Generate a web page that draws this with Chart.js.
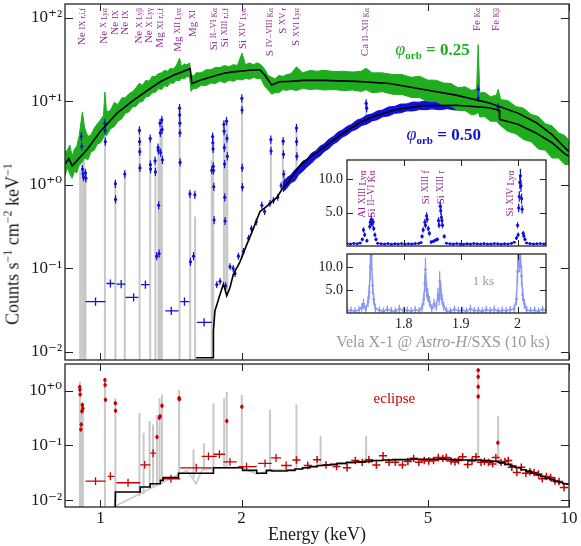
<!DOCTYPE html>
<html>
<head>
<meta charset="utf-8">
<title>Vela X-1 Astro-H/SXS spectra</title>
<script src="https://cdn.jsdelivr.net/npm/chart.js@4.4.1/dist/chart.umd.min.js"></script>
<style>
  body { margin: 0; background: #fff; }
  #wrap { position: relative; width: 581px; height: 546px; overflow: hidden; font-family: 'Liberation Serif', serif; }
  canvas { position: absolute; }
  #ytitle { position: absolute; left: 13px; top: 244px; transform: translate(-50%, -50%) rotate(-90deg); white-space: nowrap; font-size: 18px; color: #1a1a1a; }
  #ytitle sup { font-size: 12px; line-height: 0; }
  #vela { position: absolute; left: 443px; top: 342px; transform: translate(-50%, -50%); white-space: nowrap; font-size: 16px; color: #9a9a9a; }
</style>
</head>
<body>
<div id="wrap">
  <canvas id="bottom" width="581" height="186" style="left:0;top:360px"></canvas>
  <canvas id="top" width="581" height="364" style="left:0;top:0"></canvas>
  <canvas id="insetTop" width="252" height="100" style="left:300px;top:150px"></canvas>
  <canvas id="insetBot" width="252" height="90" style="left:300px;top:250px"></canvas>
  <div id="ytitle">Counts s<sup>−1</sup> cm<sup>−2</sup> keV<sup>−1</sup></div>
  <div id="vela">Vela X-1 @ <i>Astro-H</i>/SXS (10 ks)</div>
</div>
<script>
const FONT = "'Liberation Serif', 'DejaVu Serif', serif";
const GREEN = '#1fad1f', BLUE = '#1010d8', RED = '#c80000', GRAY = '#c8c8c8';
const PURPLE = '#8e2b8e', LIGHT = '#8898f4', INK = '#1a1a1a';

// ---- top panel: phi = 0.25 (green data band, black model)
const greenE = [0.840,0.850,0.860,0.870,0.880,0.890,0.900,0.915,0.925,0.940,0.955,0.970,0.985,1.000,1.015,1.022,1.030,1.050,1.070,1.090,1.110,1.130,1.150,1.170,1.190,1.210,1.230,1.250,1.270,1.290,1.310,1.330,1.350,1.370,1.390,1.410,1.430,1.450,1.475,1.490,1.510,1.530,1.550,1.560,1.580,1.600,1.640,1.680,1.720,1.760,1.800,1.840,1.880,1.920,1.960,2.005,2.040,2.080,2.120,2.160,2.200,2.240,2.280,2.320,2.360,2.400,2.450,2.500,2.550,2.620,2.700,2.800,2.900,3.000,3.150,3.300,3.450,3.600,3.690,3.800,4.000,4.200,4.400,4.600,4.800,5.000,5.200,5.400,5.600,5.800,6.000,6.200,6.350,6.400,6.450,6.600,6.800,7.000,7.060,7.150,7.400,7.700,8.000,8.300,8.600,8.900,9.200,9.500,9.800,10.00];
const greenLo = [1.3,1.6,1.35,1.2,1.45,1.4,1.7,1.9,2.1,2.0,2.5,2.6,3.1,3.2,3.7,4.1,3.9,4.7,5.0,5.8,6.2,7.2,7.5,8.6,8.7,9.8,10.0,11.4,11.5,12.7,12.9,14.2,13.9,15.4,15.1,16.7,16.4,17.9,17.6,18.9,18.6,19.9,19.5,13.2,14.3,14.2,15.6,15.5,16.6,16.4,17.6,16.7,17.9,17.4,18.4,18.1,18.9,18.4,19.4,18.8,18.9,15.2,13.8,12.2,12.8,12.7,13.8,13.6,14.0,13.5,14.3,13.9,14.1,13.7,13.9,13.5,13.7,13.2,13.8,12.7,13.1,12.2,12.1,11.2,11.1,10.0,10.0,9.0,8.8,7.8,7.8,6.9,7.1,7.5,6.5,6.6,5.8,5.8,5.5,5.1,4.4,4.1,3.5,3.3,2.7,2.6,2.1,2.1,1.75,1.75];
const greenHi = [2.5,2.6,3.0,2.2,2.7,2.9,3.8,7.5,4.8,3.8,4.0,4.8,5.4,6.0,6.8,13.0,7.5,7.8,9.7,9.2,11.0,11.1,12.4,13.1,14.5,16.5,15.6,18.0,17.5,20.0,20.0,21.6,22.0,23.6,23.0,25.0,24.4,26.6,33.0,26.0,28.2,27.4,29.0,21.5,20.0,22.0,22.0,24.0,24.0,25.6,25.5,27.0,26.0,27.6,27.0,38.0,27.5,29.0,27.5,29.0,27.5,24.5,20.5,19.5,18.6,20.5,20.0,21.0,21.5,26.0,22.0,23.5,23.0,23.6,22.8,23.0,22.5,23.0,25.0,22.0,22.0,21.0,21.0,19.5,20.0,18.0,18.0,16.6,16.4,14.6,15.0,13.6,14.0,48.0,12.6,12.9,11.4,11.9,14.0,10.5,10.3,8.7,8.3,7.0,6.6,5.4,5.1,4.2,3.9,3.4];
const modelTopE = [0.84,0.856,0.87,0.89,0.937,1.0,1.085,1.177,1.277,1.342,1.432,1.554,1.567,1.632,1.771,1.845,1.921,2.085,2.19,2.244,2.32,2.41,2.54,2.708,2.99,3.52,4.14,4.79,5.74,6.76,7.1,7.8,8.5,9.2,9.8,10.0];
const modelTopV = [1.77,2.07,1.69,1.94,2.67,4.39,7.24,10.4,14.3,17.2,20.6,24.7,16.4,17.9,20.6,21.9,22.6,23.6,24.0,20.6,15.7,17.2,17.4,17.9,17.9,17.4,16.4,14.2,11.9,9.6,8.7,7.2,5.6,4.0,2.8,2.5];

// ---- top panel: phi = 0.50 (blue data, black model, grey line model)
const modelMidE = [1.60,1.742,1.742,1.755,1.80,1.83,1.86,1.89,1.921,1.985,2.05,2.12,2.19,2.26,2.38,2.45,2.50,2.66,2.80,2.99,3.09,3.24,3.52,3.63,3.82,4.14,4.28,4.88,5.74,6.76,7.10,7.11,7.8,8.5,9.2,9.8,10.0];
const modelMidV = [0.0085,0.0085,0.018,0.031,0.049,0.065,0.047,0.059,0.085,0.12,0.19,0.30,0.48,0.55,0.71,0.92,1.03,1.69,2.15,2.8,3.2,3.9,5.3,5.8,6.6,7.6,8.0,8.9,9.0,8.4,7.8,6.1,5.3,4.2,3.2,2.35,2.2];
const blueLineE = [0.910,0.912,0.915,0.918,0.920,0.929,0.931,1.022,1.023,1.024,1.076,1.077,1.127,1.211,1.212,1.213,1.214,1.277,1.278,1.279,1.308,1.310,1.318,1.327,1.329,1.331,1.334,1.340,1.342,1.344,1.352,1.354,1.356,1.475,1.476,1.477,1.478,1.479,1.552,1.556,1.580,1.590,1.728,1.735,1.737,1.739,1.741,1.743,1.745,1.748,1.834,1.836,1.838,1.840,1.842,1.845,1.858,1.862,1.866,2.003,2.005,2.007,2.009,2.310,2.312,2.455,2.458,2.462,2.620,2.622,2.625,3.690,3.700,6.40,6.40,7.06];
const blueLineV = [3.8,2.9,1.55,1.35,1.24,1.4,1.2,5.5,4.5,3.3,1.03,0.67,1.35,4.5,3.3,2.5,1.6,3.6,1.75,1.55,1.95,1.43,0.14,2.8,2.6,0.57,0.15,5.5,4.2,2.44,6.0,4.6,2.0,8.3,6.9,5.5,4.2,1.86,0.78,0.12,0.14,0.76,1.5,3.8,3.2,2.7,1.67,1.49,0.95,0.38,5.3,4.4,2.8,1.78,0.71,0.37,5.8,3.6,2.2,10.9,7.9,1.6,0.94,3.5,2.55,3.34,2.33,1.35,4.8,3.3,2.2,9.5,8.3,14,11,8.5];
const blueBinE = [0.976,1.050,1.107,1.177,1.247,1.416,1.511,1.664];
const blueBinV = [0.040,0.066,0.065,0.045,0.064,0.031,0.040,0.0226];
const blueBinLo = [0.929,1.030,1.081,1.130,1.221,1.375,1.480,1.606];
const blueBinHi = [1.025,1.073,1.130,1.205,1.273,1.468,1.549,1.728];
const blueContE = [1.771,1.80,1.85,1.89,1.92,1.937,1.97,2.02,2.07,2.10,2.15,2.21,2.24,2.30,2.34,2.39,2.43,2.47];
const blueContV = [0.064,0.07,0.062,0.105,0.10,0.087,0.14,0.16,0.23,0.30,0.36,0.57,0.48,0.60,0.65,0.71,0.98,1.08];
const blueBandE = [2.45,2.50,2.55,2.60,2.65,2.70,2.76,2.82,2.88,2.94,3.00,3.07,3.14,3.21,3.28,3.36,3.44,3.52,3.61,3.70,3.80,3.90,4.00,4.12,4.24,4.37,4.50,4.65,4.80,4.95,5.10,5.30,5.50,5.70,5.90,6.10,6.30,6.50,6.70,6.90,7.10,7.12,7.40,7.80,8.20,8.60,9.00,9.40,9.80,10.0];
const blueBandLo = [0.82,0.92,1.06,1.12,1.33,1.45,1.65,1.82,2.06,2.22,2.50,2.72,3.08,3.32,3.72,3.98,4.42,4.65,5.15,5.35,5.85,6.05,6.55,6.70,7.20,7.30,7.70,7.70,8.00,7.95,8.15,7.95,8.20,7.90,7.95,7.65,7.65,7.30,7.25,6.90,6.85,5.30,5.10,4.50,3.95,3.30,2.80,2.35,2.02,1.85];
const blueBandHi = [1.08,1.22,1.32,1.52,1.66,1.92,2.04,2.40,2.55,2.90,3.10,3.52,3.80,4.28,4.55,5.02,5.35,5.95,6.25,6.85,7.10,7.70,7.90,8.60,8.70,9.30,9.35,9.85,9.80,10.2,10.0,10.2,10.0,10.2,9.75,9.90,9.45,9.50,9.05,9.10,8.70,7.10,6.55,6.10,5.30,4.70,3.95,3.45,2.75,2.60];
const grayTopE = [0.905,0.915,0.922,0.929,1.022,1.076,1.127,1.212,1.277,1.31,1.33,1.343,1.352,1.475,1.554,1.592,1.728,1.74,1.835,1.855,1.865,2.005,2.31,2.45,2.62,3.69,6.40,7.06];
const grayTopPeak = [1.5,3.9,3.0,1.4,6.2,1.1,1.45,4.7,3.8,2.0,3.0,5.6,6.2,8.8,0.82,0.42,2.0,4.0,5.5,4.6,6.0,11.2,3.7,3.5,5.0,10.2,16,10];
const grayTopBase = [0.001,0.001,0.001,0.001,0.001,0.001,0.001,0.001,0.001,0.001,0.001,0.001,0.001,0.001,0.001,0.001,0.001,0.02,0.065,0.05,0.047,0.13,0.6,0.92,1.5,6.0,8.6,7.9];

// ---- bottom panel: eclipse
const eclModelE = [1.075,1.076,1.216,1.277,1.342,1.361,1.467,1.742,2.01,2.155,2.26,2.32,2.5,2.6,2.7,2.8,2.9,3.0,3.1,3.2,3.35,3.5,3.65,3.8,4.0,4.2,4.4,4.6,4.8,5.0,5.3,5.6,5.9,6.2,6.5,6.8,7.1,7.3,7.5,7.7,7.9,8.1,8.3,8.5,8.7,8.9,9.1,9.3,9.5,9.7,9.9,10.0];
const eclModelV = [0.001,0.0098,0.0141,0.0174,0.020,0.023,0.026,0.031,0.039,0.035,0.031,0.035,0.034,0.035,0.037,0.039,0.041,0.043,0.044,0.045,0.047,0.049,0.050,0.051,0.053,0.054,0.055,0.055,0.056,0.056,0.056,0.056,0.055,0.054,0.054,0.053,0.051,0.048,0.045,0.042,0.039,0.036,0.034,0.031,0.029,0.027,0.025,0.024,0.022,0.021,0.020,0.0195];
const redLineE = [0.903,0.904,0.905,0.908,0.910,0.913,0.915,0.917,1.022,1.023,1.025,1.076,1.077,1.320,1.336,1.340,1.353,1.472,1.474,1.86,2.003,6.40,6.40,6.40,6.40,7.05];
const redLineV = [1.17,1.04,0.85,0.195,0.24,0.42,0.55,0.47,1.56,1.27,0.68,0.59,0.43,0.142,0.32,0.34,0.53,0.73,0.70,0.28,0.51,2.36,1.79,1.18,0.78,0.112];
const redBinE = [0.976,1.050,1.145,1.243,1.295,1.414,1.601,1.700,1.794,1.890,2.050,2.245,2.370,2.490];
const redBinV = [0.0223,0.0273,0.0208,0.044,0.072,0.0246,0.039,0.063,0.069,0.050,0.041,0.047,0.059,0.043];
const redBinLo = [0.929,1.036,1.081,1.216,1.278,1.353,1.480,1.645,1.742,1.830,1.970,2.170,2.310,2.430];
const redBinHi = [1.025,1.071,1.216,1.278,1.314,1.480,1.728,1.771,1.845,1.953,2.155,2.320,2.430,2.560];
const redContE = [2.62,2.77,2.90,3.03,3.19,3.36,3.50,3.62,3.74,3.88,4.01,4.13,4.26,4.41,4.53,4.66,4.78,4.91,5.02,5.14,5.26,5.38,5.47,5.60,5.71,5.81,5.93,6.08,6.21,6.33,6.49,6.60,6.73,6.87,6.98,7.16,7.30,7.42,7.55,7.74,7.91,8.09,8.25,8.42,8.61,8.77,8.95,9.14,9.33,9.52,9.76];
const redContV = [0.054,0.043,0.055,0.044,0.041,0.039,0.053,0.049,0.055,0.044,0.065,0.049,0.049,0.044,0.051,0.058,0.049,0.053,0.052,0.053,0.060,0.058,0.060,0.052,0.050,0.053,0.062,0.045,0.052,0.062,0.049,0.051,0.049,0.046,0.060,0.049,0.051,0.053,0.040,0.032,0.040,0.031,0.033,0.032,0.030,0.0246,0.027,0.026,0.0223,0.022,0.017];
const grayEclCE = [1.066,1.53,1.60,1.65,1.74,2.0,2.15,2.25,2.35,2.6,3.0,4.0,5.0,6.0,7.0,8.0,9.0,10.0];
const grayEclCV = [0.0075,0.035,0.02,0.036,0.038,0.04,0.03,0.033,0.036,0.036,0.043,0.053,0.056,0.054,0.051,0.036,0.026,0.0195];
const grayEclE = [0.904,0.912,0.917,1.022,1.076,1.211,1.236,1.273,1.295,1.320,1.337,1.353,1.472,1.58,1.664,1.742,1.836,1.86,2.003,2.30,2.62,2.95,3.69,6.40,7.06];
const grayEclPeak = [1.45,0.55,0.55,1.66,0.73,0.39,0.17,0.28,0.24,0.36,0.73,0.84,1.03,0.085,0.11,0.59,0.73,0.95,0.84,0.45,0.56,0.148,0.15,2.5,0.34];
const grayEclBase = [0.001,0.001,0.001,0.001,0.001,0.012,0.013,0.016,0.018,0.02,0.022,0.024,0.03,0.025,0.035,0.036,0.038,0.038,0.04,0.034,0.036,0.043,0.05,0.054,0.052];

// ---- inset (Si region, linear axes)
const insBaseE = [1.700,1.706,1.712,1.718,1.723,1.754,1.760,1.766,1.772,1.778,1.784,1.790,1.796,1.802,1.808,1.814,1.820,1.826,1.830,1.875,1.881,1.887,1.893,1.899,1.905,1.911,1.917,1.923,1.929,1.935,1.941,1.947,1.953,1.959,1.965,1.971,1.977,1.983,1.989,1.994,2.016,2.022,2.028,2.034,2.040,2.046,2.050];
const insBaseV = [0.35,0.30,0.38,0.32,0.45,0.40,0.33,0.30,0.36,0.28,0.34,0.31,0.37,0.29,0.33,0.30,0.35,0.38,0.50,0.42,0.33,0.30,0.36,0.31,0.28,0.34,0.30,0.37,0.32,0.29,0.35,0.31,0.30,0.36,0.33,0.28,0.34,0.31,0.38,0.55,0.45,0.35,0.30,0.33,0.37,0.31,0.34];
const insPeakE = [1.727,1.729,1.731,1.735,1.740,1.741,1.743,1.744,1.746,1.747,1.749,1.751,1.832,1.834,1.837,1.838,1.840,1.841,1.843,1.845,1.848,1.852,1.856,1.859,1.861,1.862,1.864,1.865,1.866,1.867,1.868,1.871,1.998,2.000,2.001,2.002,2.003,2.004,2.005,2.006,2.007,2.008,2.010,2.011,2.013];
const insPeakV = [1.0,2.4,1.67,0.8,2.9,3.57,4.0,3.3,3.6,2.6,1.67,1.0,1.43,2.4,3.57,3.1,4.5,4.0,2.6,1.9,0.6,0.7,0.9,1.0,3.8,3.1,5.95,5.24,4.3,3.8,3.1,1.43,1.2,3.1,1.67,5.7,7.4,9.5,10.5,9.0,7.1,5.5,1.9,1.5,1.0];
const lowE = [1.700,1.707,1.714,1.721,1.726,1.729,1.733,1.737,1.739,1.741,1.743,1.745,1.747,1.750,1.757,1.764,1.771,1.778,1.785,1.792,1.799,1.806,1.813,1.820,1.827,1.832,1.835,1.837,1.838,1.840,1.842,1.845,1.849,1.853,1.857,1.860,1.862,1.863,1.865,1.867,1.870,1.875,1.882,1.889,1.896,1.903,1.910,1.917,1.924,1.931,1.938,1.945,1.952,1.959,1.966,1.973,1.980,1.987,1.994,1.998,2.000,2.001,2.003,2.005,2.007,2.009,2.012,2.016,2.023,2.030,2.037,2.044,2.050];
const lowV = [0.5,0.6,0.4,0.7,1.2,2.0,0.8,2.5,4.5,10.0,12.5,6.0,3.0,1.0,0.6,0.4,0.8,0.5,0.4,0.9,0.5,0.6,0.4,0.7,0.5,1.2,3.0,6.5,9.5,5.0,4.0,2.5,1.0,2.0,1.5,4.0,3.0,7.0,5.0,3.0,1.5,0.5,0.4,0.8,0.5,0.6,0.4,0.9,0.5,0.6,0.4,0.7,0.5,0.8,0.4,0.6,0.5,0.7,0.9,3.0,9.0,13.5,12.0,13.0,8.0,4.0,2.0,0.7,0.5,0.6,0.4,0.8,0.5];

// ---- line identifications
const lineLabelE = [0.915,1.017,1.076,1.130,1.211,1.271,1.342,1.465,1.577,1.748,1.845,2.014,2.30,2.45,2.62,3.68,6.36,6.99];
const lineLabelParts = [['Ne','IX','r,i,f'],['Ne','X','Lyα'],['Ne','IX',''],['Ne','IX',''],['Ne','X','Lyβ'],['Ne','X','Lyγ'],['Mg','XI','r,i,f'],['Mg','XII','Lyα'],['Mg','XI',''],['Si','II–VI','Kα'],['Si','XIII','r,i,f'],['Si','XIV','Lyα'],['S','IV–VIII','Kα'],['S','XV','r'],['S','XVI','Lyα'],['Ca','II–XII','Kα'],['Fe','','Kα'],['Fe','','Kβ']];
const insetLabelE = [1.7274,1.7439,1.8384,1.865,1.987];
const insetLabelParts = [['Al','XIII','Lyα'],['Si','II–VI','Kα'],['Si','XIII','f'],['Si','XIII','r'],['Si','XIV','Lyα']];

// axis ticks
const energyTicks = [0.9,1,2,3,4,5,6,7,8,9,10];
const energyLabels = [1,2,5,10];

const NARROW = 0.0035;
const SUPS = {'0':'⁰','1':'¹','2':'²','3':'³','+':'⁺','-':'⁻'};

Chart.defaults.font.family = FONT;
Chart.defaults.elements.point.radius = 0;
Chart.defaults.elements.line.tension = 0;

function xy(E, V) { return E.map((e, i) => ({ x: e, y: V[i] })); }
function crosses(E, V, f, dx) {
  return E.map((e, i) => ({ x: e, y: V[i], yMin: V[i] / (1 + f), yMax: V[i] * (1 + f), xMin: e * (1 - dx), xMax: e * (1 + dx) }));
}
function bins(E, V, lo, hi, f) {
  return E.map((e, i) => ({ x: e, y: V[i], yMin: V[i] / (1 + f), yMax: V[i] * (1 + f), xMin: lo[i], xMax: hi[i] }));
}
function spikes(E, peak, base) { return E.map((e, i) => ({ x: e, y: peak[i], yMin: base[i], yMax: peak[i] })); }
function linCross(E, V, e0, f, dx) {
  return E.map((e, i) => { const d = e0 + f * V[i]; return { x: e, y: V[i], yMin: Math.max(0, V[i] - d), yMax: V[i] + d, xMin: e - dx, xMax: e + dx }; });
}

function logTicks(min, max) {
  const out = [];
  for (let p = Math.floor(Math.log10(min)); p <= Math.ceil(Math.log10(max)); p++) {
    for (let k = 1; k < 10; k++) {
      const v = k * Math.pow(10, p);
      if (v >= min && v <= max) out.push({ value: v, major: k === 1 });
    }
  }
  return out;
}
function powLabel(v) {
  const l = Math.log10(v), p = Math.round(l);
  if (Math.abs(l - p) > 1e-6) return null;
  return '10' + ((p < 0 ? '-' : '+') + Math.abs(p)).split('').map(c => SUPS[c]).join('');
}

function drawParts(ctx, x, y, parts, align) {
  let w = 0;
  parts.forEach(p => { ctx.font = p[1]; w += ctx.measureText(p[0]).width; });
  let cx = align === 'right' ? x - w : align === 'center' ? x - w / 2 : x;
  parts.forEach(p => {
    ctx.font = p[1]; ctx.fillStyle = p[2];
    ctx.fillText(p[0], cx, y + (p[3] || 0));
    cx += ctx.measureText(p[0]).width;
  });
}
function drawIdLabel(ctx, px, py, parts, sizes) {
  ctx.save();
  ctx.translate(px, py);
  ctx.rotate(-Math.PI / 2);
  ctx.textBaseline = 'middle';
  drawParts(ctx, 0, 0, [
    [parts[0] + ' ', sizes[0] + 'px ' + FONT, PURPLE, 0],
    [parts[1] ? parts[1] + ' ' : '', sizes[1] + 'px ' + FONT, PURPLE, 0],
    [parts[2], sizes[2] + 'px ' + FONT, PURPLE, 1]
  ], 'right');
  ctx.restore();
}

// error bars drawn under each dataset's points
const errorBars = {
  id: 'errorBars',
  beforeDatasetDraw(chart, args) {
    const ds = chart.data.datasets[args.index];
    if (!ds.errColor) return;
    const { ctx, chartArea: a, scales: { x, y } } = chart;
    ctx.save();
    ctx.beginPath(); ctx.rect(a.left, a.top, a.right - a.left, a.bottom - a.top); ctx.clip();
    ctx.strokeStyle = ds.errColor; ctx.lineWidth = ds.errWidth || 1;
    ctx.beginPath();
    ds.data.forEach(p => {
      const px = x.getPixelForValue(p.x), py = y.getPixelForValue(p.y);
      if (p.yMin !== undefined) { ctx.moveTo(px, y.getPixelForValue(p.yMin)); ctx.lineTo(px, y.getPixelForValue(p.yMax)); }
      if (p.xMin !== undefined) { ctx.moveTo(x.getPixelForValue(p.xMin), py); ctx.lineTo(x.getPixelForValue(p.xMax), py); }
    });
    ctx.stroke();
    ctx.restore();
  }
};

// box around the plot with inward ticks on all four sides
const frame = {
  id: 'frame',
  defaults: { xMajor: 7, xMinor: 7, yMajor: 8, yMinor: 4 },
  afterDatasetsDraw(chart, args, o) {
    const { ctx, chartArea: a, scales: { x, y } } = chart;
    ctx.save();
    ctx.strokeStyle = '#222';
    ctx.lineWidth = 1;
    ctx.beginPath();
    x.ticks.forEach(t => {
      const px = Math.round(x.getPixelForValue(t.value)) + 0.5, len = t.major ? o.xMajor : o.xMinor;
      ctx.moveTo(px, a.top); ctx.lineTo(px, a.top + len);
      ctx.moveTo(px, a.bottom); ctx.lineTo(px, a.bottom - len);
    });
    y.ticks.forEach(t => {
      const py = Math.round(y.getPixelForValue(t.value)) + 0.5, len = t.major ? o.yMajor : o.yMinor;
      ctx.moveTo(a.left, py); ctx.lineTo(a.left + len, py);
      ctx.moveTo(a.right, py); ctx.lineTo(a.right - len, py);
    });
    ctx.stroke();
    ctx.lineWidth = 1.3;
    ctx.strokeRect(a.left, a.top, a.right - a.left, a.bottom - a.top);
    ctx.restore();
  }
};
Chart.register(errorBars, frame);

const whiteArea = {
  id: 'whiteArea',
  beforeDraw(chart) {
    const { ctx, chartArea: a } = chart;
    ctx.save(); ctx.fillStyle = '#fff'; ctx.fillRect(a.left, a.top, a.right - a.left, a.bottom - a.top); ctx.restore();
  }
};

function energyAxis(showLabels) {
  return {
    type: 'logarithmic', min: 0.84, max: 10,
    afterBuildTicks: s => { s.ticks = energyTicks.map(v => ({ value: v, major: true })); },
    afterFit: s => { s.height = showLabels ? 39 : 0; s.paddingLeft = 0; s.paddingRight = 0; },
    grid: { display: false, drawTicks: false }, border: { display: false },
    ticks: {
      display: showLabels, autoSkip: false, maxRotation: 0, padding: 1, color: INK, font: { size: 17 },
      callback: v => energyLabels.includes(v) ? String(v) : null
    },
    title: { display: showLabels, text: 'Energy (keV)', color: INK, font: { size: 18 }, padding: { top: 0, bottom: 0 } }
  };
}
function countAxis(min, max) {
  return {
    type: 'logarithmic', min: min, max: max,
    afterBuildTicks: s => { s.ticks = logTicks(min, max); },
    afterFit: s => { s.width = 65; s.paddingTop = 0; s.paddingBottom = 0; },
    grid: { display: false, drawTicks: false }, border: { display: false },
    ticks: { autoSkip: false, padding: 3, color: INK, font: { size: 17 }, callback: v => powLabel(v) }
  };
}
const baseOpts = { responsive: false, animation: false, events: [] };

// ---------- top panel ----------
new Chart(document.getElementById('top'), {
  type: 'line',
  data: {
    datasets: [
      { data: xy(modelTopE, modelTopV), borderColor: '#000', borderWidth: 1.6, order: 0 },
      { data: xy(modelMidE, modelMidV), borderColor: '#000', borderWidth: 1.6, order: 0 },
      { data: crosses(blueLineE, blueLineV, 0.12, NARROW), showLine: false, pointRadius: 1.6, pointBorderWidth: 0, pointBackgroundColor: BLUE, errColor: BLUE, errWidth: 1.2, order: 1 },
      { data: bins(blueBinE, blueBinV, blueBinLo, blueBinHi, 0.12), showLine: false, errColor: BLUE, errWidth: 1.3, order: 1 },
      { data: crosses(blueContE, blueContV, 0.1, NARROW), showLine: false, pointRadius: 1.6, pointBorderWidth: 0, pointBackgroundColor: BLUE, errColor: BLUE, errWidth: 1.2, order: 1 },
      { data: xy(greenE, greenHi), fill: '+1', backgroundColor: GREEN, borderColor: GREEN, borderWidth: 1, order: 3 },
      { data: xy(greenE, greenLo), borderColor: GREEN, borderWidth: 1, order: 3 },
      { data: xy(blueBandE, blueBandHi), fill: '+1', backgroundColor: BLUE, borderColor: BLUE, borderWidth: 1, order: 4 },
      { data: xy(blueBandE, blueBandLo), borderColor: BLUE, borderWidth: 1, order: 4 },
      { data: spikes(grayTopE, grayTopPeak, grayTopBase), showLine: false, errColor: GRAY, errWidth: 2, order: 5 }
    ]
  },
  options: {
    ...baseOpts,
    layout: { padding: { top: 3, right: 12, bottom: 2, left: 0 } },
    scales: { x: energyAxis(false), y: countAxis(0.008, 147) },
    plugins: { legend: { display: false }, tooltip: { enabled: false } }
  },
  plugins: [{
    id: 'topNotes',
    afterDraw(chart) {
      const { ctx, scales: { x, y } } = chart;
      lineLabelE.forEach((e, i) => drawIdLabel(ctx, x.getPixelForValue(e), 8, lineLabelParts[i], [11, 8.5, 7.5]));
      ctx.save();
      ctx.textBaseline = 'alphabetic';
      const phi = (c, val) => [['φ', 'italic 18px ' + FONT, c, 0], ['orb', 'bold 11px ' + FONT, c, 4], [' = ' + val, 'bold 17px ' + FONT, c, 0]];
      drawParts(ctx, x.getPixelForValue(4.26), y.getPixelForValue(36.5), phi(GREEN, '0.25'), 'left');
      drawParts(ctx, x.getPixelForValue(4.50), y.getPixelForValue(3.41), phi(BLUE, '0.50'), 'left');
      ctx.restore();
    }
  }]
});

// ---------- bottom panel (eclipse) ----------
new Chart(document.getElementById('bottom'), {
  type: 'line',
  data: {
    datasets: [
      { data: xy(eclModelE, eclModelV), stepped: 'after', borderColor: '#000', borderWidth: 1.6, order: 0 },
      { data: crosses(redLineE, redLineV, 0.1, NARROW), showLine: false, pointRadius: 1.8, pointBorderWidth: 0, pointBackgroundColor: RED, errColor: RED, errWidth: 1.3, order: 1 },
      { data: bins(redBinE, redBinV, redBinLo, redBinHi, 0.18), showLine: false, errColor: RED, errWidth: 1.3, order: 1 },
      { data: crosses(redContE, redContV, 0.17, 0.02), showLine: false, errColor: RED, errWidth: 1.5, order: 1 },
      { data: xy(grayEclCE, grayEclCV), borderColor: GRAY, borderWidth: 1.5, order: 3 },
      { data: spikes(grayEclE, grayEclPeak, grayEclBase), showLine: false, errColor: GRAY, errWidth: 2, order: 3 }
    ]
  },
  options: {
    ...baseOpts,
    layout: { padding: { top: 2, right: 12, bottom: 0, left: 0 } },
    scales: { x: energyAxis(true), y: countAxis(0.0075, 3.07) },
    plugins: { legend: { display: false }, tooltip: { enabled: false } }
  },
  plugins: [{
    id: 'eclNote',
    afterDraw(chart) {
      const { ctx, scales: { x, y } } = chart;
      ctx.save();
      ctx.textBaseline = 'alphabetic';
      drawParts(ctx, x.getPixelForValue(4.24), y.getPixelForValue(0.583), [['eclipse', '15px ' + FONT, RED, 0]], 'center');
      ctx.restore();
    }
  }]
});

// ---------- inset ----------
function insetX(showLabels) {
  return {
    type: 'linear', min: 1.7, max: 2.05,
    afterBuildTicks: s => {
      const t = [];
      for (let k = 0; k <= 14; k++) { const v = 1.7 + k * 0.025; t.push({ value: v, major: k % 4 === 0 }); }
      s.ticks = t;
    },
    afterFit: s => { s.height = showLabels ? 27 : 0; s.paddingLeft = 0; s.paddingRight = 0; },
    grid: { display: false, drawTicks: false }, border: { display: false },
    ticks: {
      display: showLabels, autoSkip: false, maxRotation: 0, padding: 3, color: INK, font: { size: 14 },
      callback: v => { const r = Math.round(v * 10) / 10; return Math.abs(v - r) < 1e-6 && r > 1.75 ? (r === 2 ? '2' : r.toFixed(1)) : null; }
    }
  };
}
function insetY(max) {
  return {
    type: 'linear', min: 0, max: max,
    afterBuildTicks: s => { s.ticks = [2.5, 5, 7.5, 10, 12.5].map(v => ({ value: v, major: v % 5 === 0 })); },
    afterFit: s => { s.width = 47; s.paddingTop = 0; s.paddingBottom = 0; },
    grid: { display: false, drawTicks: false }, border: { display: false },
    ticks: { autoSkip: false, padding: 4, color: INK, font: { size: 14 }, callback: v => v % 5 === 0 ? v.toFixed(1) : null }
  };
}
const insetFrame = { xMajor: 6, xMinor: 4, yMajor: 6, yMinor: 4 };

new Chart(document.getElementById('insetTop'), {
  type: 'line',
  data: {
    datasets: [
      { data: linCross(insBaseE, insBaseV, 0.18, 0, 0.003), showLine: false, pointRadius: 1.3, pointBorderWidth: 0, pointBackgroundColor: BLUE, errColor: BLUE, errWidth: 1.3 },
      { data: linCross(insPeakE, insPeakV, 0.2, 0.08, 0.0015), showLine: false, pointRadius: 1.6, pointBorderWidth: 0, pointBackgroundColor: BLUE, errColor: BLUE, errWidth: 1.2 }
    ]
  },
  options: {
    ...baseOpts,
    layout: { padding: { top: 10, right: 6, bottom: 0, left: 0 } },
    scales: { x: insetX(false), y: insetY(12.86) },
    plugins: { legend: { display: false }, tooltip: { enabled: false }, frame: insetFrame }
  },
  plugins: [whiteArea, {
    id: 'insetIds',
    afterDraw(chart) {
      const { ctx, scales: { x, y } } = chart;
      insetLabelE.forEach((e, i) => drawIdLabel(ctx, x.getPixelForValue(e), y.getPixelForValue(11.3), insetLabelParts[i], [11, 9.5, 9.5]));
    }
  }]
});

new Chart(document.getElementById('insetBot'), {
  type: 'line',
  data: {
    datasets: [
      { data: linCross(lowE, lowV, 0.7, 0.2, 0.002), borderColor: LIGHT, borderWidth: 1.4, pointRadius: 1.3, pointBorderWidth: 0, pointBackgroundColor: LIGHT, errColor: LIGHT, errWidth: 1.3 }
    ]
  },
  options: {
    ...baseOpts,
    layout: { padding: { top: 0, right: 6, bottom: 0, left: 0 } },
    scales: { x: insetX(true), y: insetY(12.86) },
    plugins: { legend: { display: false }, tooltip: { enabled: false }, frame: insetFrame }
  },
  plugins: [whiteArea, {
    id: 'ksNote',
    afterDraw(chart) {
      const { ctx, scales: { x, y } } = chart;
      ctx.save();
      ctx.textBaseline = 'middle';
      drawParts(ctx, x.getPixelForValue(1.94), y.getPixelForValue(6.9), [['1 ks', '13px ' + FONT, '#9a9a9a', 0]], 'center');
      ctx.restore();
    }
  }]
});
</script>
</body>
</html>
